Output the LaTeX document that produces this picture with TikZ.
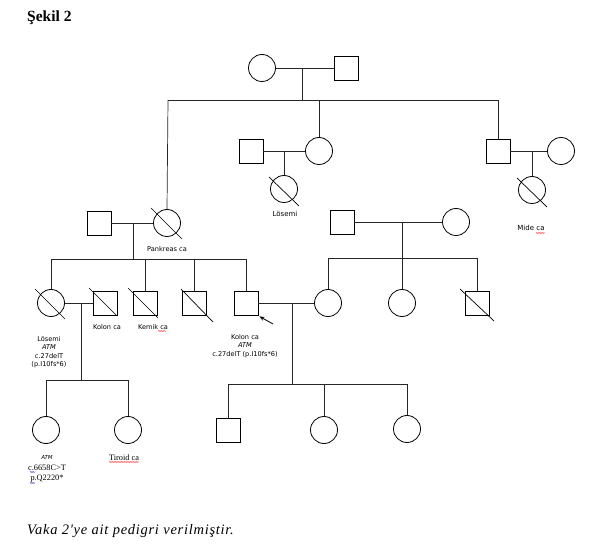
\documentclass[tikz,border=0pt]{standalone}
\usepackage{fontspec}
\setmainfont{Liberation Serif}
\newfontfamily\lab{DejaVu Sans}
\newfontfamily\capfont[LetterSpace=5]{Liberation Serif}
\usetikzlibrary{arrows.meta,decorations.pathmorphing}
\tikzset{
  fem/.style={circle,draw,minimum size=27pt,inner sep=0pt,line width=0.8pt},
  mal/.style={rectangle,draw,minimum size=24pt,inner sep=0pt,line width=0.8pt},
  ln/.style={line width=0.7pt,draw=black!85},
  sl/.style={line width=0.7pt},
  lbl/.style={font=\lab\fontsize{6.6pt}{7.5pt}\selectfont,inner sep=0pt,align=center},
  lblb/.style={font=\lab\fontsize{7pt}{8pt}\selectfont,inner sep=0pt,align=center},
  ser/.style={font=\fontsize{8.3pt}{10.5pt}\selectfont,inner sep=0pt,align=center},
  sq/.style={red,line width=0.4pt,decorate,decoration={snake,amplitude=0.4pt,segment length=1.5pt}},
  sqb/.style={blue!70!black,line width=0.4pt,decorate,decoration={snake,amplitude=0.4pt,segment length=1.5pt}},
}
\begin{document}
\begin{tikzpicture}[x=1pt,y=-1pt]
\useasboundingbox (0,0) rectangle (595,548);
\node[anchor=west,inner sep=0pt,font=\bfseries\fontsize{15.5pt}{17pt}\selectfont] (title) at (27,18) {Şekil 2};
\node[anchor=west,inner sep=0pt,font=\capfont\itshape\fontsize{14.5pt}{16pt}\selectfont] (cap) at (27,531) {Vaka 2\symbol{39}ye ait pedigri verilmiştir.};

% generation I
\node[fem] (g1f) at (262,68) {};
\node[mal] (g1m) at (346,68) {};
\draw[ln] (g1f) -- (g1m);
\coordinate (m1) at (302,68);
\coordinate (s1) at (302,100);
\coordinate (s1L) at (168,100);
\coordinate (s1R) at (498,100);
\coordinate (s1c) at (319,100);
\draw[ln] (m1) -- (s1);
\draw[ln] (s1L) -- (s1R);

% generation II, middle branch
\node[fem] (a2f) at (319,151) {};
\node[mal] (a2m) at (251,151) {};
\draw[ln] (s1c) -- (a2f.north);
\draw[ln] (a2m) -- (a2f);
\coordinate (m2) at (284,151);
\node[fem] (a2c) at (284,189) {};
\draw[ln] (m2) -- (a2c.north);
\draw[sl] ([shift={(-15,-12)}]a2c.center) -- ([shift={(15,17)}]a2c.center);
\node[lblb] (l1) at (285,214) {Lösemi};

% generation II, right branch
\node[mal] (a3m) at (498,151) {};
\node[fem] (a3f) at (561,151) {};
\draw[ln] (s1R) -- (a3m.north);
\draw[ln] (a3m) -- (a3f);
\coordinate (m3) at (532,151);
\node[fem] (a3c) at (532,190) {};
\draw[ln] (m3) -- (a3c.north);
\draw[sl] ([shift={(-15,-12)}]a3c.center) -- ([shift={(15,17)}]a3c.center);
\node[lblb] (l2) at (531,228) {Mide ca};
\draw[sq] (536,233) -- (545,233);

% pankreas couple
\node[mal] (b1m) at (99,223) {};
\node[fem] (b1f) at (167,223) {};
\draw[ln] (s1L) -- (b1f.north);
\draw[ln] (b1m) -- (b1f);
\draw[sl] ([shift={(-16,-15)}]b1f.center) -- ([shift={(15,16)}]b1f.center);
\node[lbl] (l3) at (167,249) {Pankreas ca};
\coordinate (m4) at (133,223);
\coordinate (s4) at (133,259);
\coordinate (s4L) at (51,259);
\coordinate (s4R) at (246,259);
\coordinate (s4a) at (145,259);
\coordinate (s4b) at (194,259);
\draw[ln] (m4) -- (s4);
\draw[ln] (s4L) -- (s4R);

% generation III
\node[fem] (c1) at (51,303) {};
\node[mal] (c2) at (105,303) {};
\node[mal] (c3) at (145,303) {};
\node[mal] (c4) at (194,303) {};
\node[mal] (c5) at (246,303) {};
\draw[ln] (s4L) -- (c1.north);
\draw[ln] (s4a) -- (c3.north);
\draw[ln] (s4b) -- (c4.north);
\draw[ln] (s4R) -- (c5.north);
\draw[ln] (c1) -- (c2);
\draw[sl] ([shift={(-16,-14)}]c1.center) -- ([shift={(14,16)}]c1.center);
\draw[sl] ([shift={(-16,-15)}]c2.center) -- ([shift={(12,13)}]c2.center);
\draw[sl] ([shift={(-17,-15)}]c3.center) -- ([shift={(13,15)}]c3.center);
\draw[sl] ([shift={(-13,-14)}]c4.center) -- ([shift={(19,19)}]c4.center);
\coordinate (arrT) at (273,324);
\draw[line width=0.8pt,-{Stealth[length=5pt,width=4pt]}] (arrT) -- ([shift={(1,1)}]c5.south east);

\node[lbl] (l4) at (49,352) {Lösemi\\[1pt]\textit{ATM}\\[1pt]c.27delT\\[1pt](p.I10fs*6)};
\node[lbl] (l5) at (107,327) {Kolon ca};
\node[lbl] (l6) at (153,327) {Kemik ca};
\draw[sq] (158,331) -- (166,331);
\node[lbl] (l7) at (245,346) {Kolon ca\\[1pt]\textit{ATM}\\[1pt]c.27delT (p.I10fs*6)};

% right family
\node[mal] (e1m) at (342,222) {};
\node[fem] (e1f) at (456,222) {};
\draw[ln] (e1m) -- (e1f);
\coordinate (m5) at (402,222);
\coordinate (s5) at (402,258);
\coordinate (s5L) at (328,258);
\coordinate (s5R) at (477,258);
\draw[ln] (m5) -- (s5);
\draw[ln] (s5L) -- (s5R);
\node[fem] (e2) at (328,303) {};
\node[fem] (e3) at (402,303) {};
\node[mal] (e4) at (477,303) {};
\draw[ln] (s5L) -- (e2.north);
\draw[ln] (s5) -- (e3.north);
\draw[ln] (s5R) -- (e4.north);
\draw[sl] ([shift={(-17,-14)}]e4.center) -- ([shift={(17,18)}]e4.center);

% proband marriage
\draw[ln] (c5) -- (e2);
\coordinate (m6) at (292,303);
\coordinate (s6) at (292,384);
\coordinate (s6L) at (228,384);
\coordinate (s6R) at (407,384);
\coordinate (s6c) at (324,384);
\draw[ln] (m6) -- (s6);
\draw[ln] (s6L) -- (s6R);
\node[mal] (f1) at (228,430) {};
\node[fem] (f2) at (324,430) {};
\node[fem] (f3) at (407,429) {};
\draw[ln] (s6L) -- (f1.north);
\draw[ln] (s6c) -- (f2.north);
\draw[ln] (s6R) -- (f3.north);

% Lösemi offspring
\coordinate (m7) at (81,303);
\coordinate (s7) at (81,380);
\coordinate (s7L) at (46,380);
\coordinate (s7R) at (128,380);
\draw[ln] (m7) -- (s7);
\draw[ln] (s7L) -- (s7R);
\node[fem] (d1) at (46,430) {};
\node[fem] (d2) at (128,430) {};
\draw[ln] (s7L) -- (d1.north);
\draw[ln] (s7R) -- (d2.north);
\node[font=\lab\itshape\fontsize{5.5pt}{6pt}\selectfont,inner sep=0pt] (l8) at (47,457) {ATM};
\node[ser] (l9) at (47,468) {c.6658C>T};
\node[ser] (l10) at (47,479) {p.Q2220*};
\node[ser] (l11) at (124,458) {Tiroid ca};
\draw[sq] (109,462) -- (139,462);
\draw[sqb] (30,472) -- (35,472);
\draw[sqb] (30,483) -- (35,483);
\end{tikzpicture}
\end{document}
